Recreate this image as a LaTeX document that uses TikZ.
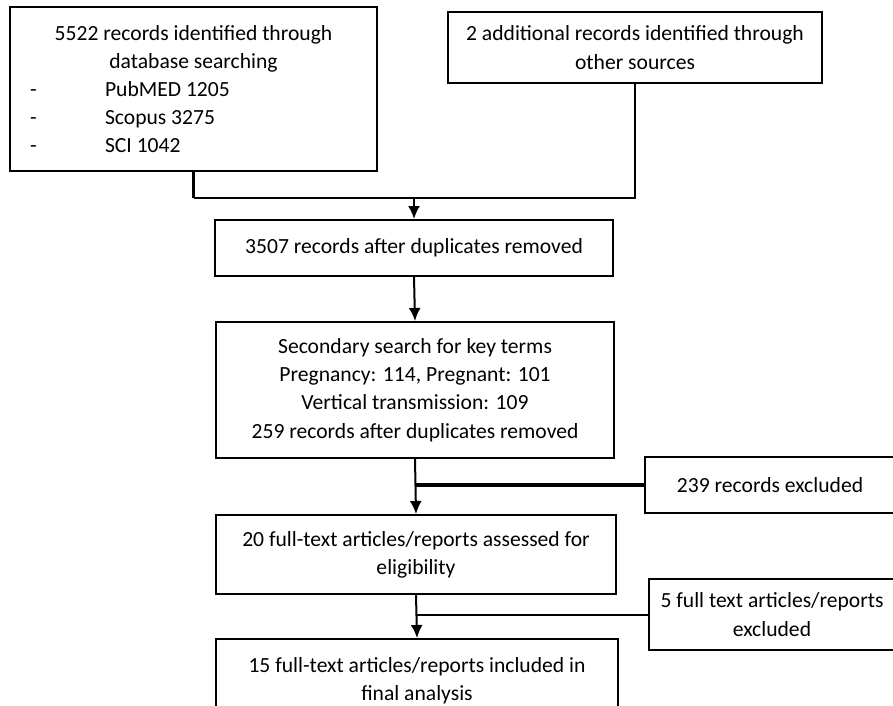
\documentclass[tikz,border=0pt]{standalone}
\usepackage{fontspec}
\setmainfont{Carlito}
\usetikzlibrary{arrows.meta}
\tikzstyle{box} = [rectangle, draw=black, line width=2pt, inner sep=0pt, align=center, font=\fontsize{21.6}{28.2}\selectfont]
\tikzstyle{arrow} = [line width=2pt, -{Latex[length=13pt,width=12pt]}]
\tikzstyle{link} = [line width=2pt]
\tikzstyle{heavy} = [line width=3.2pt]

\begin{document}
\begin{tikzpicture}[x=1pt,y=-1pt]
\clip (0,0) rectangle (893,705);
\fill[white] (0,0) rectangle (893,705);
\node (dbsearch) [box, minimum width=367pt, minimum height=164pt] at (193.5,89) {5522 records identified through\\ database searching\\ \makebox[347pt][l]{\hspace{10pt}\makebox[75pt][l]{-}PubMED 1205}\\ \makebox[347pt][l]{\hspace{10pt}\makebox[75pt][l]{-}Scopus 3275}\\ \makebox[347pt][l]{\hspace{10pt}\makebox[75pt][l]{-}SCI 1042}};
\node (srcother) [box, minimum width=374pt, minimum height=71pt] at (635,47.5) {2 additional records identified through\\ other sources};
\node (dedup) [box, minimum width=398pt, minimum height=56pt] at (414,248) {3507 records after duplicates removed};
\node (screen) [box, minimum width=398pt, minimum height=136pt] at (415,390) {Secondary search for key terms\\ Pregnancy: 114, Pregnant: 101\\ Vertical transmission: 109\\ 259 records after duplicates removed};
\node (excl1) [box, minimum width=250pt, minimum height=56pt] at (770,485) {239 records excluded};
\node (fulltext) [box, minimum width=400pt, minimum height=79pt] at (416,554.5) {20 full-text articles/reports assessed for\\ eligibility};
\node (excl2) [box, minimum width=246pt, minimum height=71pt] at (772,614.5) {5 full text articles/reports\\ excluded};
\node (included) [box, minimum width=402pt, minimum height=84pt] at (417,681) {15 full-text articles/reports included in\\ final analysis};
% merge of the two sources
\coordinate (merge) at (414,198);
\draw [heavy] (dbsearch.south) -- (dbsearch.south |- merge);
\draw [link] (dbsearch.south |- merge) -- (merge);
\draw [link] (srcother.south) |- (merge);
\draw [arrow] (merge) -- (dedup.north);
\draw [arrow] (dedup.south) -- (screen.north);
\draw [arrow] (screen.south) -- (fulltext.north);
\draw [heavy] (excl1.west) -- (excl1.west -| screen.south);
\draw [arrow] (fulltext.south) -- (included.north);
\draw [link] (excl2.west) -- (excl2.west -| fulltext.south);
\end{tikzpicture}
\end{document}
